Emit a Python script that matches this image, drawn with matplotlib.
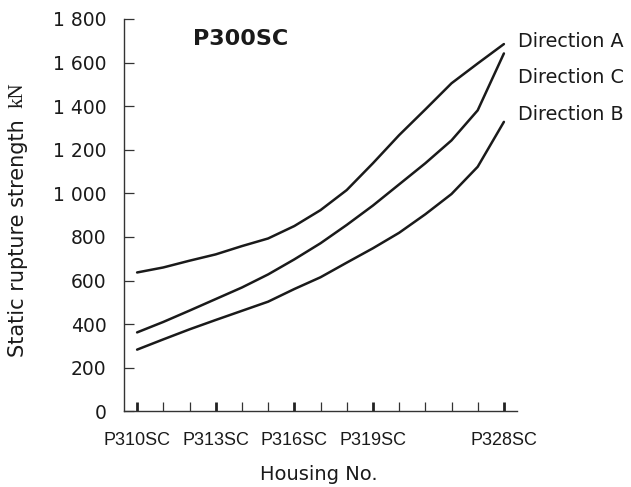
import matplotlib
matplotlib.use("Agg")
import matplotlib.pyplot as plt

housing_idx = list(range(15))
tick_pos = [0, 3, 6, 9, 14]
tick_labels = ["P310SC", "P313SC", "P316SC", "P319SC", "P328SC"]
dir_a = [637, 660, 691, 720, 758, 793, 850, 923, 1015, 1138, 1267, 1385, 1505, 1596, 1685]
dir_c = [362, 410, 462, 515, 568, 628, 697, 771, 855, 944, 1041, 1138, 1243, 1381, 1642]
dir_b = [283, 330, 376, 419, 461, 503, 561, 615, 682, 748, 819, 904, 997, 1122, 1328]
series_names = ["Direction A", "Direction C", "Direction B"]
y_ticks = [0, 200, 400, 600, 800, 1000, 1200, 1400, 1600, 1800]

plt.rcParams['font.family'] = ['DejaVu Sans']
W, H = 631, 487

def fx(px):
    return px / W

def fy(py):
    return 1 - py / H

fig = plt.figure(figsize=(6.31, 4.87), dpi=100)
ax = fig.add_axes([fx(124), fy(411.3), (517 - 124) / W, (411.3 - 19) / H])

for vals in (dir_a, dir_c, dir_b):
    ax.plot(housing_idx, vals, color='#1a1a1a', lw=1.8, solid_capstyle='round',
            solid_joinstyle='round')

# series labels at the right
for name, base in zip(series_names, (46.7, 83.3, 120.0)):
    fig.text(fx(518), fy(base), name, fontsize=13.8, va='baseline', ha='left', color='#1a1a1a')

ax.set_xlim(-0.5, 14.5)
ax.set_ylim(0, 1800)
ax.spines['top'].set_visible(False)
ax.spines['right'].set_visible(False)
for s in ('left', 'bottom'):
    ax.spines[s].set_color('#333333')
    ax.spines[s].set_linewidth(1.0)

ax.set_yticks(y_ticks)
ax.set_yticklabels([f"{v:,}".replace(",", " ") for v in y_ticks], fontsize=13.5, color='#1a1a1a')
ax.tick_params(axis='y', direction='in', length=7.5, width=0.9, color='#333333', pad=12.5)

ax.set_xticks(tick_pos)
ax.set_xticklabels(tick_labels, fontsize=13, family=['Liberation Sans'], color='#1a1a1a')
ax.set_xticks([i for i in housing_idx if i not in tick_pos], minor=True)
ax.tick_params(axis='x', which='major', direction='in', length=6.8, width=2.0, color='#222222', pad=15)
ax.tick_params(axis='x', which='minor', direction='in', length=6.3, width=0.9, color='#333333')

fig.text(fx(193.3), fy(45), "P300SC", fontsize=16, fontweight='bold', va='baseline', ha='left', color='#1a1a1a')
fig.text(fx(319), fy(480), "Housing No.", fontsize=14, va='baseline', ha='center', color='#1a1a1a')

fig.text(fx(18.5), fy(238), "Static rupture strength", rotation=90, fontsize=15,
         ha='center', va='center', color='#1a1a1a')
fig.text(fx(18.5), fy(95.5), "kN", rotation=90, fontsize=15,
         family='Liberation Serif', ha='center', va='center', color='#1a1a1a')

fig.savefig("out.png", dpi=100)
